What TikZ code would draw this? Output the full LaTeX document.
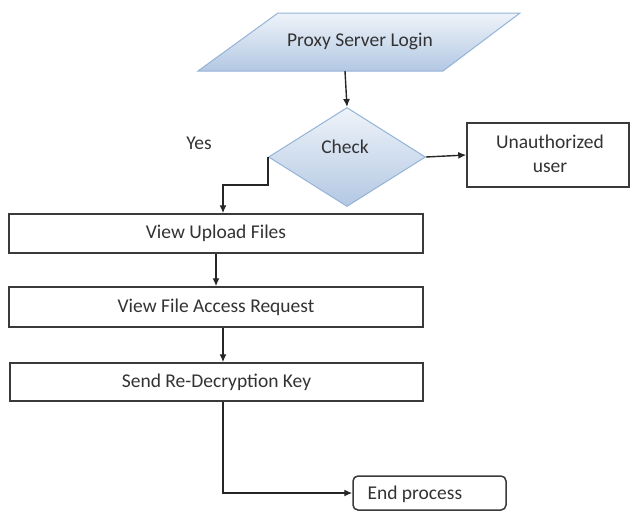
\documentclass[tikz,border=0pt]{standalone}
\usepackage{fontspec}
\setmainfont{Carlito}
\usetikzlibrary{shapes.geometric,arrows.meta,calc}

\definecolor{shadetop}{HTML}{EEF3F9}
\definecolor{shadebot}{HTML}{B3C8E3}
\definecolor{shapeedge}{HTML}{95B3D7}
\definecolor{boxedge}{HTML}{3A3A3A}

\tikzset{
  every node/.style={font=\fontsize{19.5}{23}\selectfont, text=black!80},
  flowbox/.style={draw=boxedge, line width=1.5pt, fill=white, inner sep=0pt},
  bluefill/.style={draw=shapeedge, line width=1pt, top color=shadetop, bottom color=shadebot},
  link/.style={draw=black!85, line width=1.4pt, -{Latex[length=8pt,width=7pt]}},
  plainlink/.style={draw=black!85, line width=1.4pt},
}

\begin{document}
\begin{tikzpicture}[x=1pt, y=-1pt]
  \useasboundingbox (0,0) rectangle (632,512);

  % login parallelogram
  \path[bluefill] (278,13) -- (520,13) -- (443,71) -- (198,71) -- cycle;
  \node (login) at (360,41) {Proxy Server Login};
  \coordinate (loginout) at (345,71);

  % decision diamond
  \node[shape=diamond, bluefill, inner sep=0pt, minimum width=157pt,
        minimum height=99pt, aspect=1.58] (check) at (347,157) {};
  \node at (345,147) {Check};

  % rejection box
  \node[flowbox, minimum width=162pt, minimum height=64pt] (unauth) at (548,155) {};
  \node[align=center] at (550,154) {Unauthorized\\[1pt]user};

  \node (yes) at (199,143) {Yes};

  % process boxes
  \node[flowbox, minimum width=414pt, minimum height=39pt] (upload) at (216,233.5) {View Upload Files};
  \node[flowbox, minimum width=414pt, minimum height=40pt] (request) at (216,307) {View File Access Request};
  \node[flowbox, minimum width=413pt, minimum height=38pt] (sendkey) at (216.5,382) {Send Re-Decryption Key};

  % end terminal
  \node[flowbox, rounded corners=5pt, minimum width=153pt, minimum height=34pt] (endbox) at (429.5,493) {};
  \node[anchor=west] at (364,494) {End process};

  % connectors
  \draw[link] (loginout) -- (check.north);
  \draw[link] (check.east) -- (unauth.west);
  \draw[link] (check.west) -- ++(0,28) -| ($(upload.north)+(7,0)$);
  \draw[link] (upload.south) -- (request.north);
  \draw[link] ($(request.south)+(7,0)$) -- ($(sendkey.north)+(6.5,0)$);
  \draw[link] ($(sendkey.south)+(6.5,0)$) |- (endbox.west);
\end{tikzpicture}
\end{document}
